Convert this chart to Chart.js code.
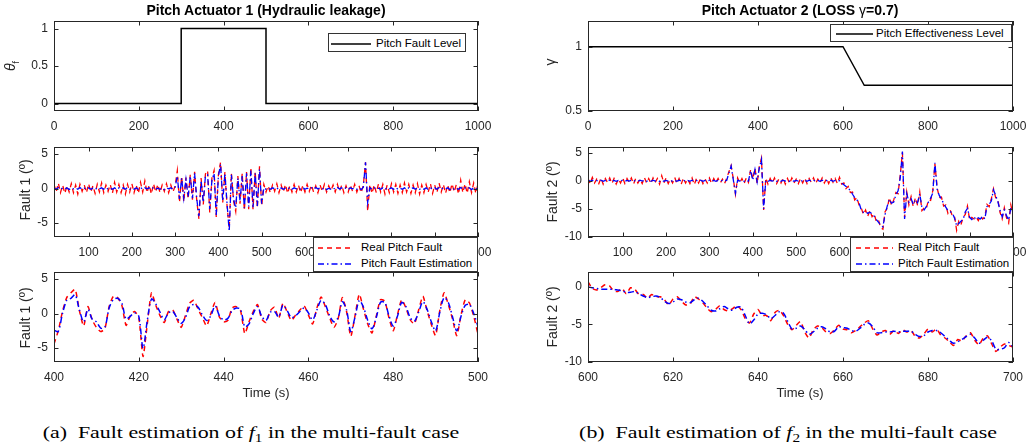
<!DOCTYPE html>
<html>
<head>
<meta charset="utf-8">
<title>Pitch actuator fault estimation</title>
<script src="https://cdn.jsdelivr.net/npm/chart.js@4"></script>
<style>
  body { margin: 0; background: #fff; overflow: hidden; }
  #page { position: relative; width: 1030px; height: 448px; font-family: 'Liberation Sans', Arial, sans-serif; color: #262626; }
  canvas { position: absolute; }
  .lbl { position: absolute; white-space: nowrap; font-size: 13px; line-height: 16px; }
  .ylbl { font-size: 14px; }
  .title { position: absolute; white-space: nowrap; font-size: 14px; font-weight: bold; line-height: 16px; color: #000; transform: translateX(-50%); }
  .legend { position: absolute; background: #fff; border: 1px solid #333; box-sizing: border-box; z-index: 5; font-size: 11.5px; color: #000; }
  .legend span { position: absolute; white-space: nowrap; line-height: 14px; }
  .legend svg { position: absolute; left: 0; top: 0; }
  .cap { position: absolute; white-space: nowrap; font-family: 'Liberation Serif', serif; font-size: 17.5px; line-height: 20px; color: #000; }
  .cap sub { font-size: 70%; vertical-align: -0.35em; line-height: 0; }
</style>
</head>
<body>
<div id="page"></div>

<script>
  // ---- data ----
  // top row: fault level / effectiveness
  const tLevel1 = [0, 300, 300, 500, 500, 1000];
  const level1 = [0, 0, 1, 1, 0, 0];
  const tGamma = [0, 0, 600, 650, 1000];
  const gamma = [0.5, 1, 1, 0.7, 0.7];

  // middle row: sampled every 5 s from 20 s to 1000 s
  const tWide = Array.from({length: 197}, (_, i) => 20 + 5 * i);

  const fault1Real = [
    0.6,-0.5,0.8,-0.6,0.5,-0.7,0.4,-0.5,0.7,-0.6,0.5,-0.8,0.6,-0.4,0.5,-0.6,0.7,-0.5,0.4,-0.7,   // 20-115
    0.6,-0.5,0.8,-0.6,0.5,-0.4,0.6,-0.7,0.9,-0.5,0.6,-0.6,0.5,-0.8,0.6,-0.5,0.7,-0.6,0.5,-0.7,   // 120-215
    0.9,-0.5,1.1,-0.6,0.5,-0.8,0.7,-0.5,0.6,-0.6,0.5,-0.4,0.7,-0.6,0.5,-0.5,0.4,2.6,-2.0,1.8,    // 220-315
    -1.9,1.6,-1.5,2.0,-1.6,2.4,-1.8,-4.4,1.5,-2.3,2.1,2.6,-3.5,1.5,2.6,-4.1,2.0,3.8,-2.0,2.4,     // 320-415
    -2.5,-5.8,2.2,-1.8,-3.3,1.8,-2.2,2.2,-3.2,2.4,-3.0,3.0,-3.0,2.5,-2.8,3.2,-2.5,0.6,-0.5,0.4,   // 420-515
    -0.6,0.5,-0.4,0.7,-0.6,0.5,-0.5,0.6,-0.7,0.4,-0.5,0.6,-0.5,0.5,-0.6,0.4,-0.5,0.6,-0.4,0.5,   // 520-615
    -0.5,0.4,-0.6,0.5,-0.4,0.6,-0.5,0.4,-0.3,0.5,-0.5,0.6,-0.4,0.5,-0.6,0.4,-0.5,0.5,-0.4,0.6,   // 620-715
    -0.5,0.4,-0.6,0.5,3.8,-3.3,0.6,-0.7,0.5,-0.6,0.7,-0.5,0.6,-0.8,0.5,-0.6,0.7,-0.5,0.6,-0.7,   // 720-815
    0.5,-0.6,0.8,-0.5,0.6,-0.7,0.5,-0.6,0.7,-0.8,0.5,-0.6,0.6,-0.5,0.7,-0.7,0.5,-0.6,0.8,-0.5,   // 820-915
    0.6,-0.7,0.5,-0.6,0.7,-0.5,0.6,-0.8,1.2,-0.6,0.7,-0.7,1.0,-0.6,0.8,-0.7,0.7                  // 920-1000
  ];
  const fault1Est = [
    0.1,-0.1,0.15,-0.1,0.05,-0.1,0.1,-0.15,0.1,-0.05,0.1,-0.1,0.15,-0.1,0.05,-0.1,0.1,-0.1,0.05,-0.15,
    0.1,-0.05,0.1,-0.1,0.15,-0.1,0.05,-0.1,0.1,-0.15,0.1,-0.05,0.1,-0.1,0.15,-0.1,0.05,-0.1,0.1,-0.1,
    0.15,-0.1,0.1,-0.05,0.1,-0.1,0.15,-0.1,0.05,-0.1,0.1,-0.15,0.1,-0.05,0.1,-0.1,0.2,1.8,-1.5,1.5,
    -1.4,1.3,-1.2,1.8,-1.4,2.2,-1.5,-4.0,1.2,-2.0,1.8,2.0,-3.0,1.2,2.2,-3.8,1.8,3.5,-1.8,2.2,
    -2.2,-6.2,2.0,-1.5,-2.8,1.5,-1.8,1.8,-2.8,2.2,-2.6,2.6,-2.7,2.2,-2.5,2.8,-2.2,0.1,-0.1,0.05,
    -0.1,0.1,-0.05,0.1,-0.15,0.1,-0.1,0.05,-0.1,0.15,-0.1,0.1,-0.05,0.1,-0.1,0.15,-0.1,0.05,-0.1,0.1,
    -0.1,0.15,-0.05,0.1,-0.1,0.1,-0.15,0.05,-0.1,0.1,-0.1,0.15,-0.05,0.1,-0.1,0.1,-0.15,0.1,-0.05,0.1,
    -0.1,0.1,-0.15,0.2,3.8,-2.0,0.1,-0.1,0.15,-0.1,0.05,-0.1,0.1,-0.15,0.1,-0.05,0.1,-0.1,0.15,-0.1,
    0.05,-0.1,0.1,-0.15,0.1,-0.05,0.1,-0.1,0.15,-0.1,0.05,-0.1,0.1,-0.15,0.1,-0.05,0.1,-0.1,0.15,-0.1,
    0.1,-0.05,0.1,-0.15,0.1,-0.1,0.05,-0.1,0.15,-0.1,0.1,-0.05,0.1,-0.15,0.1,-0.1,0.1
  ];
  const fault2Real = [
    0.4,-0.5,0.6,-0.4,0.3,-0.5,0.5,-0.6,0.4,-0.3,0.5,-0.5,0.4,-0.6,0.3,-0.4,0.5,-0.5,0.4,-0.3,
    0.5,-0.6,0.4,-0.4,0.3,-0.5,0.6,-0.4,0.4,-0.5,0.5,-0.3,0.4,-0.6,0.9,-0.4,0.5,-0.5,0.3,-0.4,
    0.6,-0.5,0.4,-0.6,0.5,-0.4,0.3,-0.5,0.5,-0.7,0.4,-0.4,0.5,-0.5,0.3,-0.4,0.5,-0.5,0.4,-0.3,
    0.4,-0.4,0.3,-0.5,0.5,1.6,2.7,0.4,-2.4,0.5,-0.4,0.4,-0.5,0.5,-0.3,2.0,0.3,2.2,-0.5,2.5,
    4.0,-5.2,0.5,-0.6,0.4,-0.4,0.5,-0.5,0.3,-0.4,0.5,-0.6,0.4,-0.5,0.5,-0.4,0.3,-0.5,0.4,-0.4,
    0.5,-0.5,0.4,-0.3,0.5,-0.5,0.3,-0.4,0.5,-0.4,0.4,-0.5,0.5,-0.3,0.4,-0.5,0.6,-0.6,-0.4,-1.4,
    -1.0,-2.1,-2.0,-3.4,-3.0,-4.3,-4.8,-6.0,-5.2,-6.3,-5.3,-6.4,-5.9,-7.3,-7.0,-8.4,-8.6,-5.5,-4.9,-3.0,
    -4.4,-3.4,-2.1,-2.3,1.0,5.0,-6.5,-2.0,-4.3,-2.8,-4.6,-3.0,-4.4,-2.0,-5.3,-4.8,-5.0,-3.4,-3.5,-1.8,
    3.0,-1.2,-3.0,-2.9,-4.5,-4.3,-5.8,-5.2,-6.2,-6.2,-8.8,-7.2,-7.8,-6.5,-6.0,-4.5,-7.0,-6.5,-6.8,-6.4,
    -7.1,-6.3,-6.8,-6.4,-4.2,-4.6,-3.2,-1.4,-3.0,-3.3,-5.6,-6.8,-4.8,-6.6,-7.5,-4.3,-6.0
  ];
  const fault2Est = [
    0.1,-0.1,0.1,-0.05,0.05,-0.1,0.1,-0.1,0.05,-0.05,0.1,-0.1,0.05,-0.1,0.05,-0.05,0.1,-0.1,0.05,-0.05,
    0.1,-0.05,0.05,-0.1,0.1,-0.05,0.1,-0.1,0.05,-0.1,0.1,-0.05,0.05,-0.1,0.1,-0.1,0.05,-0.05,0.1,-0.1,
    0.05,-0.1,0.1,-0.05,0.1,-0.1,0.05,-0.1,0.1,-0.05,0.05,-0.1,0.1,-0.1,0.05,-0.05,0.1,-0.1,0.05,-0.1,
    0.05,-0.05,0.05,-0.1,0.1,1.4,2.6,0.2,-2.2,0.1,-0.05,0.05,-0.1,0.1,-0.05,1.8,0.1,2.0,-0.2,2.3,
    3.8,-5.0,0.1,-0.1,0.05,-0.05,0.1,-0.1,0.05,-0.1,0.1,-0.05,0.05,-0.1,0.1,-0.1,0.05,-0.05,0.1,-0.1,
    0.05,-0.1,0.1,-0.05,0.1,-0.1,0.05,-0.1,0.1,-0.05,0.05,-0.1,0.1,-0.1,0.05,-0.05,0.0,-0.4,-0.7,-1.0,
    -1.4,-1.7,-2.4,-3.0,-3.4,-3.9,-5.2,-5.6,-5.5,-5.8,-5.6,-5.9,-6.3,-6.9,-7.4,-7.9,-8.2,-6.0,-4.5,-3.3,
    -4.0,-3.8,-2.5,-1.8,0.5,5.2,-6.8,-2.3,-3.8,-3.2,-4.2,-3.4,-3.9,-2.3,-4.8,-5.2,-4.6,-3.8,-3.1,-2.2,
    3.2,-1.5,-2.6,-3.3,-4.0,-4.7,-5.3,-5.5,-5.7,-6.6,-8.0,-7.6,-7.2,-6.9,-5.5,-4.9,-6.5,-6.9,-6.4,-6.9,
    -6.6,-6.8,-6.3,-6.8,-4.6,-4.2,-3.6,-1.6,-2.6,-3.7,-5.2,-6.4,-5.2,-6.2,-7.0,-4.8,-5.6
  ];

  // bottom row: zoomed windows, one sample per second
  const tZoom1 = Array.from({length: 101}, (_, i) => 400 + i);
  const zoom1Real = [
    -4.4,-2.5,0.3,2.3,3.0,3.5,0.4,-1.8,1.0,-0.9,
    -2.0,-2.6,-2.2,1.0,2.5,2.3,1.2,-1.7,-0.3,0.3,
    -0.6,-6.2,-1.5,3.0,1.2,-0.3,-1.3,0.3,0.5,-0.8,
    -2.0,-0.3,1.5,1.9,0.6,-0.6,-1.8,0.0,1.6,-0.5,
    -1.2,-1.0,0.8,1.0,0.4,-2.9,-1.2,0.3,1.3,-0.8,
    -1.3,0.4,0.9,-0.7,1.5,0.2,-1.0,-0.2,0.5,1.1,
    -0.2,-1.5,0.8,2.4,1.0,-0.6,-2.0,-0.8,2.3,0.3,
    -3.3,-0.3,2.8,0.6,-1.5,-2.8,-0.4,2.0,1.8,-0.6,
    -2.5,-0.2,2.0,0.8,-0.9,-1.5,0.5,2.5,0.4,-1.6,
    -3.2,0.5,3.0,1.3,-0.8,-3.2,-0.2,2.0,1.5,-0.4,
    -3.0
  ];
  const zoom1Est = [
    -2.4,-2.6,0.0,1.9,2.2,2.7,0.5,-1.2,0.6,-0.8,
    -1.2,-2.1,-2.0,0.8,2.0,2.2,1.5,-0.8,-0.4,0.1,
    -0.4,-5.0,-1.0,2.1,1.4,0.2,-0.9,0.1,0.3,-0.6,
    -1.4,-0.6,1.0,1.3,0.9,-0.2,-1.0,-0.3,1.1,-0.3,
    -0.9,-0.7,0.4,0.8,0.6,-1.9,-1.5,0.0,1.0,-0.4,
    -1.0,0.2,0.3,-0.5,1.2,0.4,-0.6,-0.3,0.3,0.8,
    0.1,-0.9,0.5,1.9,1.3,-0.3,-1.2,-0.6,1.7,0.5,
    -2.6,-0.5,1.9,0.9,-1.0,-2.2,-0.6,1.6,1.6,-0.3,
    -1.8,-0.4,1.6,1.0,-0.6,-1.1,0.2,1.7,0.6,-1.2,
    -2.5,0.2,2.3,1.6,-0.5,-2.5,-0.4,1.2,1.3,0.0,
    -1.9
  ];
  const tZoom2 = Array.from({length: 101}, (_, i) => 600 + i);
  const zoom2Real = [
    0.7,-0.2,-0.4,-0.1,0.3,0.2,-0.5,-0.6,-0.2,-0.9,
    -0.1,-0.3,-1.0,-1.0,-1.5,-1.0,-1.3,-1.3,-1.7,-2.4,
    -1.6,-1.3,-1.9,-2.4,-2.3,-1.3,-1.6,-2.1,-2.8,-3.3,
    -3.0,-2.5,-3.0,-3.2,-2.9,-2.5,-3.0,-4.2,-4.8,-3.6,
    -3.0,-3.8,-3.8,-4.5,-3.4,-3.1,-3.8,-5.0,-5.7,-5.1,
    -4.6,-6.0,-6.8,-5.7,-5.2,-5.4,-6.0,-6.2,-5.7,-5.1,
    -5.6,-5.7,-6.1,-5.8,-5.3,-4.8,-4.5,-5.6,-6.4,-6.0,
    -5.8,-6.3,-5.8,-6.2,-5.7,-6.0,-5.8,-6.6,-6.8,-6.3,
    -5.6,-6.0,-5.6,-6.4,-6.8,-7.3,-7.8,-7.0,-7.2,-6.5,
    -6.1,-7.1,-7.7,-6.8,-6.5,-7.6,-8.6,-8.0,-7.6,-7.8,
    -8.0
  ];
  const zoom2Est = [
    0.0,-0.1,-0.2,-0.3,-0.3,-0.3,-0.3,-0.4,-0.5,-0.7,
    -0.7,-0.6,-0.9,-1.2,-1.4,-1.3,-1.2,-1.4,-1.9,-2.2,
    -2.0,-1.6,-1.7,-2.0,-2.1,-1.7,-1.5,-1.9,-2.5,-3.1,
    -3.2,-2.9,-2.6,-2.9,-3.1,-2.7,-2.7,-3.8,-4.9,-4.4,
    -3.6,-3.5,-3.7,-4.2,-3.8,-3.3,-3.5,-4.6,-5.6,-5.5,
    -5.2,-5.7,-6.3,-6.0,-5.5,-5.3,-5.6,-6.0,-5.9,-5.3,
    -5.4,-5.5,-5.8,-5.9,-5.5,-5.0,-4.8,-5.3,-6.1,-6.1,
    -6.0,-6.0,-5.9,-6.0,-5.9,-5.9,-5.9,-6.3,-6.6,-6.5,
    -6.0,-5.8,-5.8,-6.1,-6.6,-7.1,-7.5,-7.3,-7.0,-6.6,
    -6.3,-6.8,-7.5,-7.1,-6.7,-7.2,-8.3,-8.3,-8.1,-7.4,
    -8.0
  ];

  // tick values
  const xTicksFull = [0, 200, 400, 600, 800, 1000];
  const xTicksWide = [100, 200, 300, 400, 500, 600, 700, 800, 900, 1000];
  const xTicksZoom1 = [400, 420, 440, 460, 480, 500];
  const xTicksZoom2 = [600, 620, 640, 660, 680, 700];
  const yTicksLevel = [0, 0.5, 1];
  const yTicksGamma = [0.5, 1];
  const yTicksFault1 = [-5, 0, 5];
  const yTicksFault2 = [-10, -5, 0, 5];
  const yTicksZoom2 = [-10, -5, 0];

  const realName = 'Real Pitch Fault';
  const estName = 'Pitch Fault Estimation';

  // ---- drawing ----
  const page = document.getElementById('page');
  const INK = '#262626';
  const FONT = {family: "'Liberation Sans', Arial, sans-serif", size: 12};
  const YW = 50, XH = 30, PT = 6, PR = 16;
  const RED_DASH = [5, 4];
  const BLUE_DASH = [6, 3, 1.5, 3];

  // MATLAB-like box with inward ticks on all four sides
  const axesBox = {
    id: 'axesBox',
    afterDraw(chart) {
      const {ctx, chartArea: a, scales: {x, y}} = chart;
      ctx.save();
      ctx.strokeStyle = INK;
      ctx.lineWidth = 1;
      ctx.strokeRect(a.left + 0.5, a.top + 0.5, a.right - a.left - 1, a.bottom - a.top - 1);
      ctx.beginPath();
      x.ticks.forEach(t => {
        const px = Math.round(x.getPixelForValue(t.value)) + 0.5;
        ctx.moveTo(px, a.bottom); ctx.lineTo(px, a.bottom - 4.5);
        ctx.moveTo(px, a.top); ctx.lineTo(px, a.top + 4.5);
      });
      y.ticks.forEach(t => {
        const py = Math.round(y.getPixelForValue(t.value)) + 0.5;
        ctx.moveTo(a.left, py); ctx.lineTo(a.left + 4.5, py);
        ctx.moveTo(a.right, py); ctx.lineTo(a.right - 4.5, py);
      });
      ctx.stroke();
      ctx.restore();
    }
  };

  function series(t, v, color, dash, width, tension, order) {
    return {
      data: t.map((x, i) => ({x: x, y: v[i]})),
      borderColor: color, borderDash: dash, borderWidth: width,
      pointRadius: 0, tension: tension, order: order, fill: false
    };
  }

  function makePanel(L, T, R, B, xr, yr, xt, yt, datasets) {
    const c = document.createElement('canvas');
    c.width = R - L + YW + PR;
    c.height = B - T + PT + XH;
    c.style.left = (L - YW) + 'px';
    c.style.top = (T - PT) + 'px';
    page.appendChild(c);
    new Chart(c, {
      type: 'line',
      data: {datasets: datasets},
      options: {
        responsive: false,
        animation: false,
        devicePixelRatio: 1,
        layout: {padding: {left: 0, right: PR, top: PT, bottom: 0}, autoPadding: false},
        plugins: {legend: {display: false}, tooltip: {enabled: false}},
        scales: {
          x: {
            type: 'linear', min: xr[0], max: xr[1],
            grid: {display: false, drawTicks: false}, border: {display: false},
            ticks: {autoSkip: false, maxRotation: 0, padding: 8, color: INK, font: FONT, callback: v => String(v)},
            afterBuildTicks: s => { s.ticks = xt.map(v => ({value: v})); },
            afterFit: s => { s.height = XH; s.paddingLeft = 0; s.paddingRight = 0; }
          },
          y: {
            min: yr[0], max: yr[1],
            grid: {display: false, drawTicks: false}, border: {display: false},
            ticks: {autoSkip: false, padding: 6, color: INK, font: FONT, callback: v => String(v)},
            afterBuildTicks: s => { s.ticks = yt.map(v => ({value: v})); },
            afterFit: s => { s.width = YW; s.paddingTop = 0; s.paddingBottom = 0; }
          }
        }
      },
      plugins: [axesBox]
    });
  }

  function addText(cls, html, left, top, transform) {
    const d = document.createElement('div');
    d.className = cls;
    d.innerHTML = html;
    d.style.left = left + 'px';
    d.style.top = top + 'px';
    if (transform) d.style.transform = transform;
    page.appendChild(d);
    return d;
  }

  function addYLabel(html, cx, cy) {
    addText('lbl ylbl', html, cx, cy, 'translate(-50%,-50%) rotate(-90deg)');
  }

  function addLegend(x, y, w, h, lineX0, lineX1, textX, rows) {
    const box = document.createElement('div');
    box.className = 'legend';
    Object.assign(box.style, {left: x + 'px', top: y + 'px', width: w + 'px', height: h + 'px'});
    let svg = '<svg width="' + w + '" height="' + h + '">';
    rows.forEach(r => {
      svg += '<line x1="' + lineX0 + '" x2="' + lineX1 + '" y1="' + r.y + '" y2="' + r.y +
        '" stroke="' + r.color + '" stroke-width="' + r.width + '"' +
        (r.dash ? ' stroke-dasharray="' + r.dash.join(',') + '"' : '') + '/>';
    });
    box.innerHTML = svg + '</svg>';
    rows.forEach(r => {
      const s = document.createElement('span');
      s.textContent = r.text;
      s.style.left = textX + 'px';
      s.style.top = (r.y - 8) + 'px';
      box.appendChild(s);
    });
    page.appendChild(box);
  }

  // left column
  makePanel(54, 21, 478, 111, [0, 1000], [-0.1, 1.1], xTicksFull, yTicksLevel, [
    series(tLevel1, level1, '#000', [], 1.5, 0, 0)
  ]);
  makePanel(54, 147, 478, 237, [20, 1000], [-7, 6], xTicksWide, yTicksFault1, [
    series(tWide, fault1Est, '#0000ff', BLUE_DASH, 1.3, 0, 0),
    series(tWide, fault1Real, '#ff0000', RED_DASH, 1.3, 0, 1)
  ]);
  makePanel(54, 272, 478, 362, [400, 500], [-7, 6], xTicksZoom1, yTicksFault1, [
    series(tZoom1, zoom1Est, '#0000ff', BLUE_DASH, 1.5, 0.3, 0),
    series(tZoom1, zoom1Real, '#ff0000', RED_DASH, 1.5, 0.2, 1)
  ]);

  // right column
  makePanel(588, 21, 1013, 111, [0, 1000], [0.5, 1.2], xTicksFull, yTicksGamma, [
    series(tGamma, gamma, '#000', [], 1.4, 0, 0)
  ]);
  makePanel(588, 147, 1013, 237, [20, 1000], [-10, 6], xTicksWide, yTicksFault2, [
    series(tWide, fault2Est, '#0000ff', BLUE_DASH, 1.3, 0, 0),
    series(tWide, fault2Real, '#ff0000', RED_DASH, 1.3, 0, 1)
  ]);
  makePanel(588, 272, 1013, 362, [600, 700], [-10, 2], xTicksZoom2, yTicksZoom2, [
    series(tZoom2, zoom2Est, '#0000ff', BLUE_DASH, 1.5, 0.3, 0),
    series(tZoom2, zoom2Real, '#ff0000', RED_DASH, 1.5, 0.2, 1)
  ]);

  // titles, axis labels
  addText('title', 'Pitch Actuator 1 (Hydraulic leakage)', 266, 2);
  addText('title', 'Pitch Actuator 2 (LOSS <span style="font-weight:normal">γ</span>=0.7)', 800, 2);
  addYLabel('<i>θ</i><sub style="font-size:9px">f</sub>', 13, 66);
  addYLabel('γ', 550, 62);
  addYLabel('Fault 1 (º)', 25, 190);
  addYLabel('Fault 1 (º)', 25, 318);
  addYLabel('Fault 2 (º)', 552, 192);
  addYLabel('Fault 2 (º)', 552, 317);
  addText('lbl', 'Time (s)', 266, 385, 'translateX(-50%)');
  addText('lbl', 'Time (s)', 800, 385, 'translateX(-50%)');

  // legends
  addLegend(328, 33, 138, 19, 2, 42, 47, [
    {text: 'Pitch Fault Level', color: '#000', width: 1.5, y: 10}
  ]);
  addLegend(830, 24, 182, 18, 5, 42, 45, [
    {text: 'Pitch Effectiveness Level', color: '#000', width: 1.4, y: 9}
  ]);
  addLegend(313, 237, 165, 35, 4, 40, 47, [
    {text: realName, color: '#ff0000', width: 1.3, dash: RED_DASH, y: 10},
    {text: estName, color: '#0000ff', width: 1.3, dash: BLUE_DASH, y: 26}
  ]);
  addLegend(850, 237, 164, 35, 5, 42, 47, [
    {text: realName, color: '#ff0000', width: 1.3, dash: RED_DASH, y: 10},
    {text: estName, color: '#0000ff', width: 1.3, dash: BLUE_DASH, y: 26}
  ]);

  // sub-figure captions
  addText('cap', '(a)&nbsp; Fault estimation of <i>f</i><sub>1</sub> in the multi-fault case', 251, 422, 'translateX(-50%) scaleX(1.25)');
  addText('cap', '(b)&nbsp; Fault estimation of <i>f</i><sub>2</sub> in the multi-fault case', 788, 422, 'translateX(-50%) scaleX(1.25)');
</script>
</body>
</html>
